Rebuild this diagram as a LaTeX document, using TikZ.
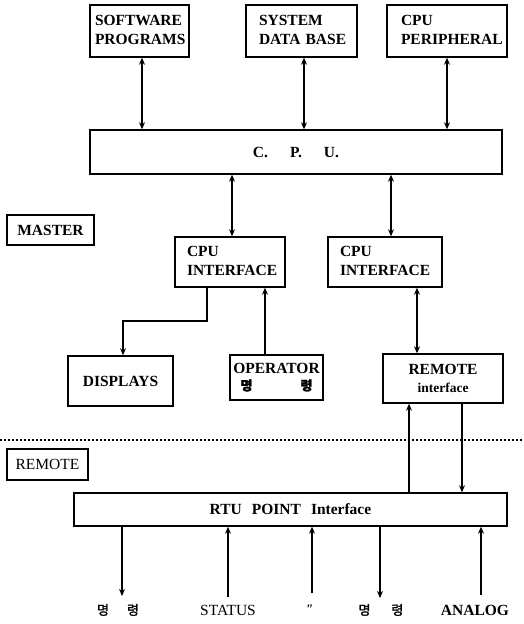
\documentclass[tikz,border=0pt]{standalone}
\usepackage{fontspec}
\setmainfont{Liberation Serif}
\newfontfamily\kr[FakeBold=2]{Noto Sans CJK KR}
\usetikzlibrary{arrows.meta}
\newcommand\leftcell[3]{\makebox[#1][l]{\hspace*{#2}\begin{tabular}{@{}l@{}}#3\end{tabular}}}
\begin{document}
\begin{tikzpicture}[x=1pt,y=-1pt,
  box/.style={draw, line width=1.5pt, inner sep=0pt, font=\fontsize{15.5}{19.5}\selectfont\bfseries},
  con/.style={line width=1.4pt},
  tip/.style={-{Stealth[length=7pt,width=6pt]}},
  dbl/.style={{Stealth[length=7pt,width=6pt]}-{Stealth[length=7pt,width=6pt]}},
  lab/.style={inner sep=0pt, font=\fontsize{15.5}{17}\selectfont\bfseries},
  korlab/.style={inner sep=0pt, font=\kr\fontsize{13}{15}\selectfont}
]
\useasboundingbox (0,0) rectangle (524,624);
% top boxes
\node[box, minimum width=99pt, minimum height=52pt] (sw) at (139.5,31)
  {\leftcell{99pt}{5pt}{SOFTWARE\\PROGRAMS}};
\node[box, minimum width=111pt, minimum height=52pt] (sd) at (301.5,31)
  {\leftcell{111pt}{13pt}{SYSTEM\\DATA\hspace{5pt}BASE}};
\node[box, minimum width=120pt, minimum height=52pt] (cp) at (447,31)
  {\leftcell{120pt}{14pt}{CPU\\PERIPHERAL}};
% CPU
\node[box, minimum width=412pt, minimum height=44pt] (cpu) at (296,152)
  {C.\hspace{22pt}P.\hspace{22pt}U.};
% master label
\node[box, minimum width=87pt, minimum height=30pt] (master) at (50.5,230) {MASTER};
% interfaces
\node[box, minimum width=110pt, minimum height=50pt] (cif1) at (230,262)
  {\leftcell{110pt}{12pt}{CPU\\INTERFACE}};
\node[box, minimum width=114pt, minimum height=50pt] (cif2) at (385,262)
  {\leftcell{114pt}{12pt}{CPU\\INTERFACE}};
% lower master boxes
\node[box, minimum width=105pt, minimum height=50pt] (disp) at (120.5,381) {DISPLAYS};
\node[box, minimum width=93pt, minimum height=45pt, align=center] (oper) at (276.5,377.5)
  {OPERATOR\\[-3pt]{\kr\fontsize{13}{15}\selectfont 명\hspace{48pt}령}};
\node[box, minimum width=120pt, minimum height=49pt, align=center] (rem) at (443,378.5)
  {REMOTE\\[-2pt]{\fontsize{13.5}{15}\selectfont interface}};
% separator
\coordinate (dl) at (0,440);
\coordinate (dr) at (524,440);
\draw[line width=1.2pt, dash pattern=on 1.6pt off 2.4pt] (dl) -- (dr);
% remote label
\node[box, minimum width=81pt, minimum height=31pt] (remote) at (47.5,464.5) {\mdseries REMOTE};
% RTU
\node[box, minimum width=433pt, minimum height=33pt] (rtu) at (290.5,509.5)
  {RTU\hspace{10pt}POINT\hspace{10pt}Interface};
% x positions of connectors
\coordinate (a1) at (142,0);
\coordinate (a2) at (304,0);
\coordinate (a3) at (447,0);
\coordinate (b1) at (232,0);
\coordinate (b2) at (391,0);
\coordinate (c1) at (207,0);
\coordinate (c2) at (123,321);
\coordinate (d1) at (265,0);
\coordinate (e1) at (417,0);
\coordinate (f1) at (409,0);
\coordinate (f2) at (462,0);
% connectors
\draw[con,dbl] (sw.south -| a1) -- (cpu.north -| a1);
\draw[con,dbl] (sd.south -| a2) -- (cpu.north -| a2);
\draw[con,dbl] (cp.south -| a3) -- (cpu.north -| a3);
\draw[con,dbl] (cpu.south -| b1) -- (cif1.north -| b1);
\draw[con,dbl] (cpu.south -| b2) -- (cif2.north -| b2);
\draw[con,tip] (cif1.south -| c1) |- (c2) -- (disp.north -| c2);
\draw[con,tip] (oper.north -| d1) -- (cif1.south -| d1);
\draw[con,dbl] (cif2.south -| e1) -- (rem.north -| e1);
\draw[con,tip] (rtu.north -| f1) -- (rem.south -| f1);
\draw[con,tip] (rem.south -| f2) -- (rtu.north -| f2);
% bottom signals
\coordinate (g1) at (122,596);
\coordinate (g2) at (228,597);
\coordinate (g3) at (312,593);
\coordinate (g4) at (380,598);
\coordinate (g5) at (481,595);
\draw[con,tip] (rtu.south -| g1) -- (g1);
\draw[con,tip] (g2) -- (rtu.south -| g2);
\draw[con,tip] (g3) -- (rtu.south -| g3);
\draw[con,tip] (rtu.south -| g4) -- (g4);
\draw[con,tip] (g5) -- (rtu.south -| g5);
% bottom labels
\node[korlab] (l1) at (118,610) {명\hspace{18pt}령};
\node[lab, font=\fontsize{15.5}{17}\selectfont] (l2) at (228,610) {STATUS};
\node[lab] (l3) at (310,609) {\fontsize{13}{14}\selectfont ″};
\node[korlab] (l4) at (381,610) {명\hspace{21pt}령};
\node[lab] (l5) at (475,610) {ANALOG};
\end{tikzpicture}
\end{document}
